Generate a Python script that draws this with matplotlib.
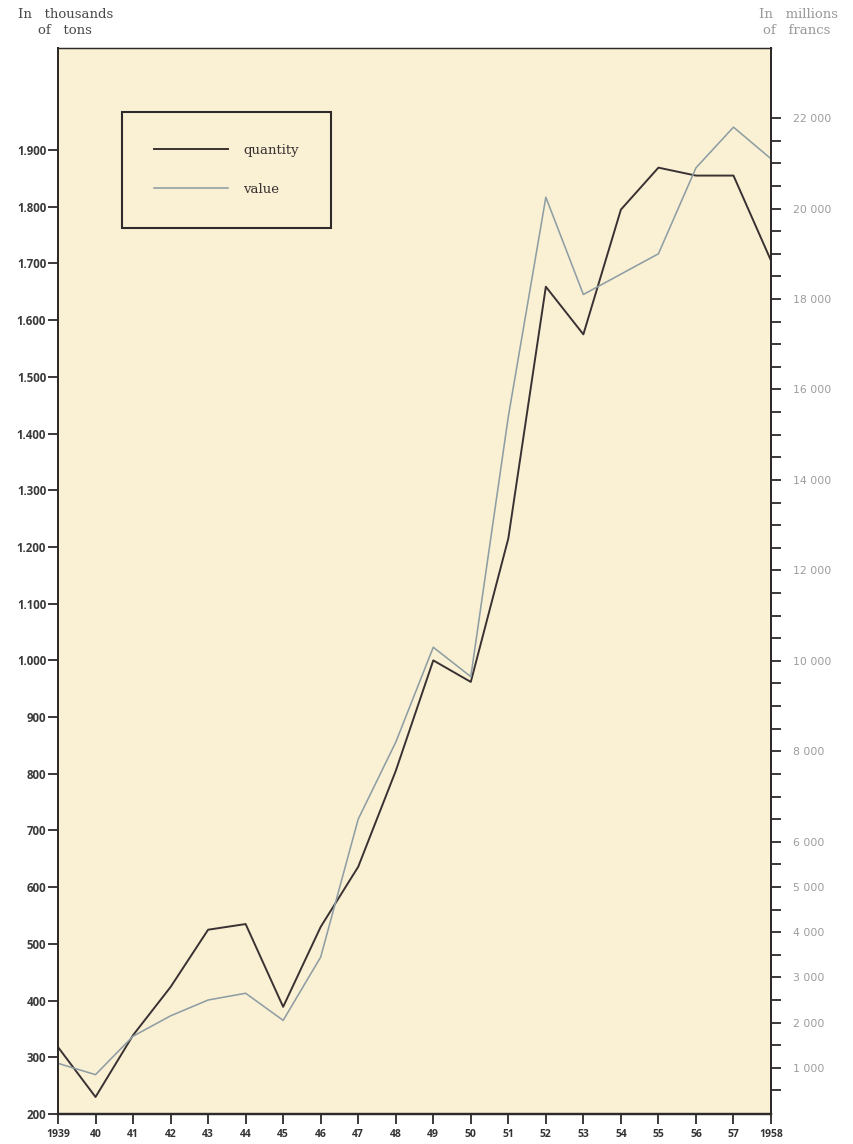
import matplotlib
matplotlib.use("Agg")
import matplotlib.pyplot as plt
from matplotlib.ticker import FixedLocator, FuncFormatter

# ---- data ----
years = list(range(1939, 1959))
year_labels = ["1939"] + [str(y)[2:] for y in range(1940, 1958)] + ["1958"]
quantity = [318, 230, 339, 424, 525, 535, 389, 530, 636, 805, 1000, 962,
            1215, 1659, 1575, 1795, 1869, 1855, 1855, 1705]   # thousands of tons
value = [1100, 850, 1700, 2150, 2500, 2650, 2050, 3450, 6500, 8200, 10300, 9650,
         15400, 20250, 18100, 18550, 19000, 20900, 21800, 21100]  # millions of francs
left_ticks = list(range(200, 2000, 100))
right_labelled = [1000, 2000, 3000, 4000, 5000, 6000, 8000, 10000, 12000, 14000,
                  16000, 18000, 20000, 22000]
right_ticks = list(range(500, 22500, 500))

CREAM = "#FAF1D5"
DARK = "#3a3232"
LIGHT = "#8f9ea3"
AXC = "#2e2a2a"

fig = plt.figure(figsize=(8.54, 11.44), dpi=100, facecolor="white")
ax = fig.add_axes([58/854, 30/1144, (771-58)/854, (1114-48)/1144])
ax.set_facecolor(CREAM)
ax2 = ax.twinx()
ax2.patch.set_visible(False)

l1, = ax.plot(years, quantity, color=DARK, lw=1.4, zorder=3)
l2, = ax2.plot(years, value, color=LIGHT, lw=1.15, zorder=2)

ax.set_xlim(1939, 1958)
ax.set_ylim(200, 2080)
ax2.set_ylim(-20, 23550)

for a in (ax, ax2):
    for s in a.spines.values():
        s.set_color(AXC)
    a.spines["left"].set_linewidth(1.4)
    a.spines["bottom"].set_linewidth(1.6)
    a.spines["right"].set_linewidth(1.4)
    a.spines["top"].set_linewidth(0.9)

ax.set_xticks(years)
ax.set_xticklabels(year_labels, family="Open Sans", fontweight="bold", fontsize=7.5,
                   color="#333333")
ax.tick_params(axis="x", direction="out", length=7, width=1.3, color=AXC, pad=4)

ax.yaxis.set_major_locator(FixedLocator(left_ticks))
ax.yaxis.set_major_formatter(FuncFormatter(lambda v, p: f"{int(v):,}".replace(",", ".")))
ax.tick_params(axis="y", direction="out", length=7, width=1.3, color=AXC, pad=1.5,
               labelsize=8.3, labelcolor="#3a3a3a")
for t in ax.get_yticklabels():
    t.set_family("Open Sans"); t.set_fontweight("bold")

ax2.yaxis.set_major_locator(FixedLocator(right_ticks))
ax2.yaxis.set_major_formatter(FuncFormatter(
    lambda v, p: f"{int(v):,}".replace(",", " ") if int(v) in right_labelled else ""))
ax2.tick_params(axis="y", direction="out", length=7, width=1.3, color=AXC, pad=9,
                labelsize=7.8, labelcolor="#9c9c9c")

leg = ax2.legend([l1, l2], ["quantity", "value"], loc="upper left",
                 bbox_to_anchor=((122-58)/713, (1114-112)/1066),
                 frameon=True, fancybox=False, borderpad=2.4, labelspacing=2.0,
                 handlelength=5.6, handletextpad=1.2, borderaxespad=0,
                 prop={"family": "DejaVu Serif", "size": 9.5})
leg.get_frame().set_edgecolor(AXC)
leg.get_frame().set_linewidth(1.5)
leg.get_frame().set_facecolor(CREAM)
leg.get_frame().set_alpha(1)
for t in leg.get_texts():
    t.set_color("#3a3232")

hdr = dict(family="DejaVu Serif", fontsize=9.5, va="center")
fig.text(18/854, 1 - 14/1144, "In   thousands", color="#4a4a4a", ha="left", **hdr)
fig.text(38/854, 1 - 31/1144, "of   tons", color="#4a4a4a", ha="left", **hdr)
fig.text(838/854, 1 - 14/1144, "In   millions", color="#9a9a9a", ha="right", **hdr)
fig.text(830/854, 1 - 30/1144, "of   francs", color="#9a9a9a", ha="right", **hdr)

fig.savefig("out.png", dpi=100, facecolor="white")
